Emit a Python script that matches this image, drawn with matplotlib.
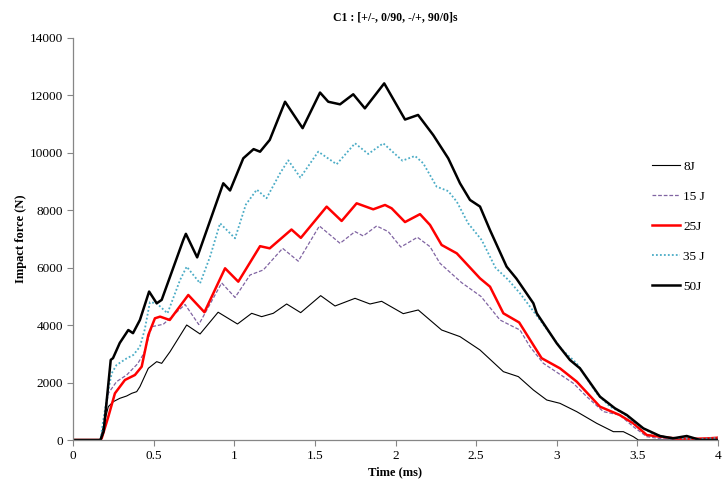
import numpy as np
import matplotlib
matplotlib.use("Agg")
import matplotlib.pyplot as plt

# impact force curves (time in ms, force in N)
t_8J = [0, 0.17, 0.188, 0.219, 0.25, 0.29, 0.333, 0.364, 0.395, 0.415, 0.467, 0.519, 0.55,
        0.602, 0.705, 0.788, 0.90, 1.02, 1.108, 1.17, 1.242, 1.325, 1.412, 1.536, 1.625,
        1.749, 1.842, 1.914, 2.048, 2.141, 2.286, 2.40, 2.524, 2.669, 2.762, 2.855, 2.938,
        3.02, 3.124, 3.248, 3.351, 3.413, 3.475, 3.506, 4.0]
f_8J = [0, 0, 464, 1161, 1335, 1451, 1533, 1625, 1684, 1858, 2496, 2728, 2670,
        3077, 4005, 3692, 4450, 4040, 4412, 4296, 4412, 4737, 4435, 5027, 4667,
        4934, 4737, 4830, 4400, 4528, 3831, 3600, 3135, 2380, 2207, 1742, 1393,
        1277, 987, 580, 290, 290, 116, 0, 0]

t_15J = [0, 0.17, 0.185, 0.219, 0.27, 0.333, 0.40, 0.44, 0.488, 0.56, 0.695, 0.78, 0.922,
         1.005, 1.098, 1.18, 1.30, 1.397, 1.528, 1.656, 1.749, 1.80, 1.883, 1.955, 2.033,
         2.136, 2.214, 2.276, 2.41, 2.53, 2.648, 2.73, 2.772, 2.834, 2.917, 3.103, 3.186,
         3.289, 3.39, 3.475, 3.558, 3.65, 3.8, 3.95, 4.0]
f_15J = [0, 0, 300, 1625, 2032, 2264, 2650, 3019, 3946, 4030, 4720, 4020, 5470,
         4965, 5747, 5921, 6675, 6228, 7454, 6850, 7257, 7106, 7454, 7257, 6720,
         7060, 6733, 6153, 5480, 5000, 4180, 3946, 3831, 3250, 2670, 1975, 1509,
         987, 871, 464, 116, 40, 30, 50, 90]

t_25J = [0, 0.17, 0.178, 0.219, 0.26, 0.322, 0.384, 0.426, 0.467, 0.508, 0.54, 0.60, 0.715,
         0.815, 0.943, 1.025, 1.16, 1.22, 1.355, 1.413, 1.573, 1.666, 1.759, 1.862, 1.935,
         1.976, 2.059, 2.152, 2.214, 2.286, 2.38, 2.524, 2.586, 2.669, 2.767, 2.906, 3.02,
         3.124, 3.268, 3.39, 3.475, 3.558, 3.64, 3.75, 3.85, 3.95, 4.0]
f_25J = [0, 0, 60, 810, 1625, 2090, 2264, 2554, 3657, 4238, 4296, 4180, 5050,
         4450, 5980, 5514, 6750, 6675, 7330, 7040, 8127, 7628, 8243, 8034, 8185,
         8069, 7590, 7865, 7489, 6792, 6501, 5630, 5340, 4412, 4093, 2850, 2496,
         2032, 1161, 871, 580, 174, 116, 50, 40, 60, 80]

t_35J = [0, 0.17, 0.188, 0.219, 0.24, 0.27, 0.333, 0.374, 0.415, 0.445, 0.477, 0.519, 0.586,
         0.664, 0.705, 0.788, 0.85, 0.912, 1.005, 1.072, 1.14, 1.20, 1.284, 1.335, 1.41,
         1.521, 1.635, 1.749, 1.831, 1.924, 2.043, 2.121, 2.172, 2.255, 2.327, 2.38, 2.45,
         2.535, 2.62, 2.70, 2.772, 2.834, 2.896, 3.03, 3.124, 3.248, 3.33, 3.413, 3.516,
         3.60, 3.68, 3.8, 3.9, 4.0]
f_35J = [0, 0, 697, 1742, 2323, 2612, 2844, 2960, 3250, 3850, 4800, 4761, 4412,
         5573, 6037, 5457, 6385, 7547, 7024, 8200, 8720, 8418, 9289, 9740, 9140,
         10042, 9603, 10333, 9962, 10333, 9728, 9892, 9637, 8823, 8668, 8300, 7550,
         6960, 6000, 5573, 5108, 4644, 4180, 3160, 2670, 1625, 1161, 929, 464,
         209, 93, 50, 40, 70]

t_50J = [0, 0.17, 0.19, 0.234, 0.248, 0.29, 0.343, 0.372, 0.415, 0.472, 0.519, 0.55, 0.684,
         0.70, 0.77, 0.932, 0.974, 1.056, 1.12, 1.16, 1.22, 1.315, 1.424, 1.532, 1.583,
         1.656, 1.738, 1.81, 1.93, 2.059, 2.14, 2.234, 2.327, 2.40, 2.462, 2.524, 2.586,
         2.689, 2.75, 2.855, 2.876, 3.0, 3.082, 3.144, 3.268, 3.361, 3.434, 3.537, 3.64,
         3.72, 3.806, 3.89, 4.0]
f_50J = [0, 0, 300, 2790, 2850, 3380, 3830, 3720, 4180, 5170, 4760, 4880, 6966,
         7180, 6360, 8940, 8690, 9810, 10130, 10040, 10450, 11780, 10860, 12100, 11780,
         11690, 12040, 11550, 12420, 11160, 11320, 10620, 9810, 8940, 8360, 8130, 7310,
         6037, 5620, 4761, 4412, 3368, 2786, 2496, 1509, 1103, 871, 406, 139,
         58, 139, 0, 0]

labels = ['8J', '15 J', '25J', '35 J', '50J']

plt.rcParams['font.family'] = ['Liberation Serif', 'DejaVu Serif']

fig = plt.figure(figsize=(7.24, 4.86), dpi=100)
ax = fig.add_axes([73 / 724, 1 - 440 / 486, 645 / 724, 402 / 486])

kw = dict(solid_joinstyle='round', dash_joinstyle='round')
ax.plot(t_8J, f_8J, color='black', lw=0.8, label=labels[0], **kw)
ax.plot(t_15J, f_15J, color='#8064a2', lw=0.9, ls=(0, (3, 1.5)), label=labels[1], **kw)
ax.plot(t_25J, f_25J, color='#ff0000', lw=1.8, label=labels[2], **kw)
ax.plot(t_35J, f_35J, color='#4bacc6', lw=1.3, ls=(0, (1, 1.2)), label=labels[3], **kw)
ax.plot(t_50J, f_50J, color='black', lw=1.8, label=labels[4], **kw)

ax.set_xlim(0, 4)
ax.set_ylim(0, 14000)
ax.set_xticks(np.arange(0, 4.01, 0.5))
ax.set_xticklabels(['0', '0.5', '1', '1.5', '2', '2.5', '3', '3.5', '4'])
ax.set_yticks(np.arange(0, 14001, 2000))

for s in ['top', 'right']:
    ax.spines[s].set_visible(False)
for s in ['left', 'bottom']:
    ax.spines[s].set_color('#868686')
    ax.spines[s].set_linewidth(0.9)
ax.tick_params(direction='out', length=4, width=0.8, color='#868686',
               labelsize=9.5, pad=3)

ax.set_xlabel('Time (ms)', fontsize=9, fontweight='bold', labelpad=3)
ax.set_ylabel('Impact force (N)', fontsize=9, fontweight='bold', labelpad=2)
fig.text(395 / 724, 1 - 17 / 486, 'C1 : [+/-, 0/90, -/+, 90/0]s', ha='center',
         va='center', fontsize=8.5, fontweight='bold')

ax.legend(loc='center left', bbox_to_anchor=(652 / 724, 1 - 226.5 / 486),
          bbox_transform=fig.transFigure, frameon=False, fontsize=9.5,
          handlelength=2.1, handletextpad=0.25, labelspacing=1.35,
          borderpad=0, borderaxespad=0)

fig.savefig('out.png', dpi=100)
